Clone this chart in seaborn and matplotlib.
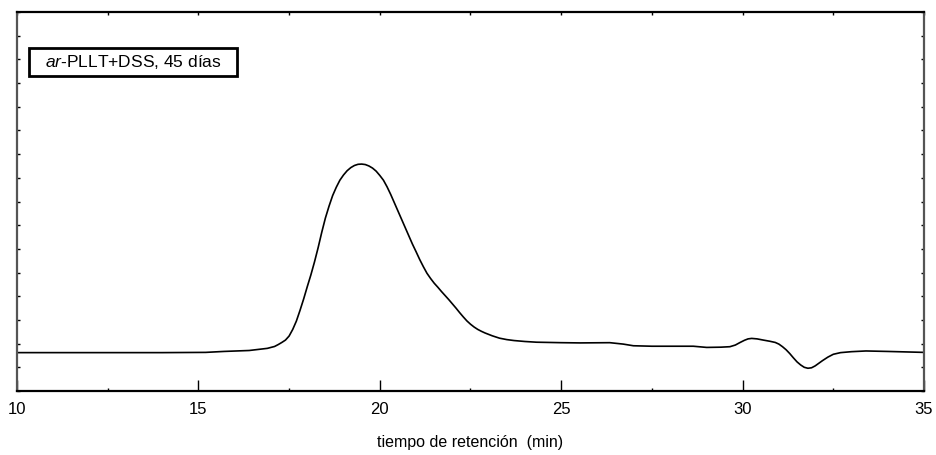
import matplotlib
matplotlib.use("Agg")
import matplotlib.pyplot as plt
import seaborn as sns
import pandas as pd
from matplotlib.patches import Rectangle
from matplotlib.ticker import MultipleLocator

# Data
retention_time = [10.0, 12.0, 14.0, 15.2, 15.7, 16.4, 16.9, 17.1, 17.2, 17.3, 17.4, 17.5, 17.6,
                  17.7, 17.8, 17.9, 18.0, 18.1, 18.2, 18.3, 18.4, 18.5, 18.6, 18.7, 18.8, 18.9,
                  19.0, 19.1, 19.2, 19.3, 19.4, 19.5, 19.6, 19.7, 19.8, 19.9, 20.0, 20.1, 20.2,
                  20.3, 20.4, 20.5, 20.6, 20.7, 20.8, 20.9, 21.0, 21.1, 21.2, 21.3, 21.4, 21.5,
                  21.6, 21.7, 21.8, 21.9, 22.0, 22.1, 22.2, 22.3, 22.4, 22.5, 22.6, 22.7, 22.8,
                  22.9, 23.0, 23.1, 23.2, 23.3, 23.5, 23.7, 24.0, 24.32, 25.0, 25.52, 26.34,
                  26.71, 26.99, 27.5, 28.64, 29.01, 29.4, 29.65, 29.8, 29.92, 30.05, 30.15,
                  30.25, 30.4, 30.57, 30.75, 30.9, 31.0, 31.1, 31.2, 31.3, 31.4, 31.5, 31.6,
                  31.7, 31.8, 31.9, 32.0, 32.1, 32.2, 32.35, 32.5, 32.7, 33.0, 33.4, 34.0,
                  34.5, 35.0]
signal = [1.62, 1.62, 1.62, 1.63, 1.67, 1.71, 1.80, 1.88, 1.96, 2.05, 2.15, 2.32, 2.60,
          2.95, 3.40, 3.88, 4.40, 4.90, 5.45, 6.05, 6.70, 7.30, 7.80, 8.25, 8.60, 8.90,
          9.12, 9.30, 9.43, 9.52, 9.57, 9.58, 9.56, 9.50, 9.41, 9.28, 9.10, 8.90, 8.62,
          8.30, 7.95, 7.60, 7.25, 6.90, 6.55, 6.20, 5.88, 5.55, 5.25, 4.97, 4.75, 4.55,
          4.38, 4.20, 4.03, 3.86, 3.68, 3.50, 3.31, 3.13, 2.96, 2.82, 2.70, 2.60, 2.52,
          2.45, 2.39, 2.33, 2.28, 2.23, 2.17, 2.13, 2.09, 2.06, 2.04, 2.03, 2.04,
          1.98, 1.91, 1.89, 1.89, 1.84, 1.85, 1.87, 1.94, 2.04, 2.14, 2.20,
          2.22, 2.20, 2.15, 2.10, 2.05, 1.98, 1.87, 1.74, 1.58, 1.40, 1.23, 1.10,
          1.00, 0.96, 0.98, 1.06, 1.17, 1.28, 1.43, 1.55, 1.62, 1.66, 1.69, 1.67,
          1.65, 1.63]

x_ticks = [10, 15, 20, 25, 30, 35]
x_label = "tiempo de retención  (min)"
sample_label = r"$\mathit{ar}$-PLLT+DSS, 45 días"

sns.set_style("ticks")
plt.rcParams["font.family"] = ["Liberation Sans", "DejaVu Sans"]
plt.rcParams["mathtext.fontset"] = "custom"
plt.rcParams["mathtext.rm"] = "Liberation Sans"
plt.rcParams["mathtext.it"] = "Liberation Sans:italic"
plt.rcParams["text.color"] = "black"
plt.rcParams["xtick.color"] = "black"
plt.rcParams["ytick.color"] = "black"
plt.rcParams["axes.labelcolor"] = "black"

df = pd.DataFrame({"t": retention_time, "s": signal})

fig = plt.figure(figsize=(9.37, 4.55), dpi=100)
ax = fig.add_axes([17 / 937, 1 - 391 / 455, (924 - 17) / 937, (391 - 12) / 455])

sns.lineplot(data=df, x="t", y="s", ax=ax, color="black", linewidth=1.2, sort=False)

ax.set_xlim(10, 35)
ax.set_ylim(0, 16)
ax.set_xticks(x_ticks)
ax.set_xticklabels([str(v) for v in x_ticks], fontsize=12)
ax.xaxis.set_minor_locator(MultipleLocator(2.5))
ax.tick_params(axis="x", which="major", direction="in", length=8, width=1, bottom=True, top=False, pad=8)
ax.tick_params(axis="x", which="minor", direction="in", length=2, width=1, bottom=True, top=False)

secx = ax.secondary_xaxis("top")
secx.set_xticks([10 + 2.5 * i for i in range(11)])
secx.tick_params(direction="in", length=2, width=1, labeltop=False)
secx.spines["top"].set_visible(False)

ax.yaxis.set_major_locator(MultipleLocator(1))
ax.tick_params(axis="y", which="major", direction="in", length=2.5, width=1,
               left=True, right=True, labelleft=False, labelright=False)

ax.set_xlabel(x_label, fontsize=11.5, labelpad=13)
ax.set_ylabel("")

for side in ["top", "bottom"]:
    ax.spines[side].set_linewidth(1.6)
    ax.spines[side].set_color("black")
for side in ["left", "right"]:
    ax.spines[side].set_linewidth(1.6)
    ax.spines[side].set_color("#555555")

ax.add_patch(Rectangle((0.0129, 0.831), 0.2293, 0.074, transform=ax.transAxes,
                       fill=False, edgecolor="black", linewidth=2, zorder=5))
ax.text(0.1279, 0.868, sample_label, transform=ax.transAxes, ha="center", va="center",
        fontsize=12.5, zorder=6)

fig.savefig("out.png", dpi=100)
